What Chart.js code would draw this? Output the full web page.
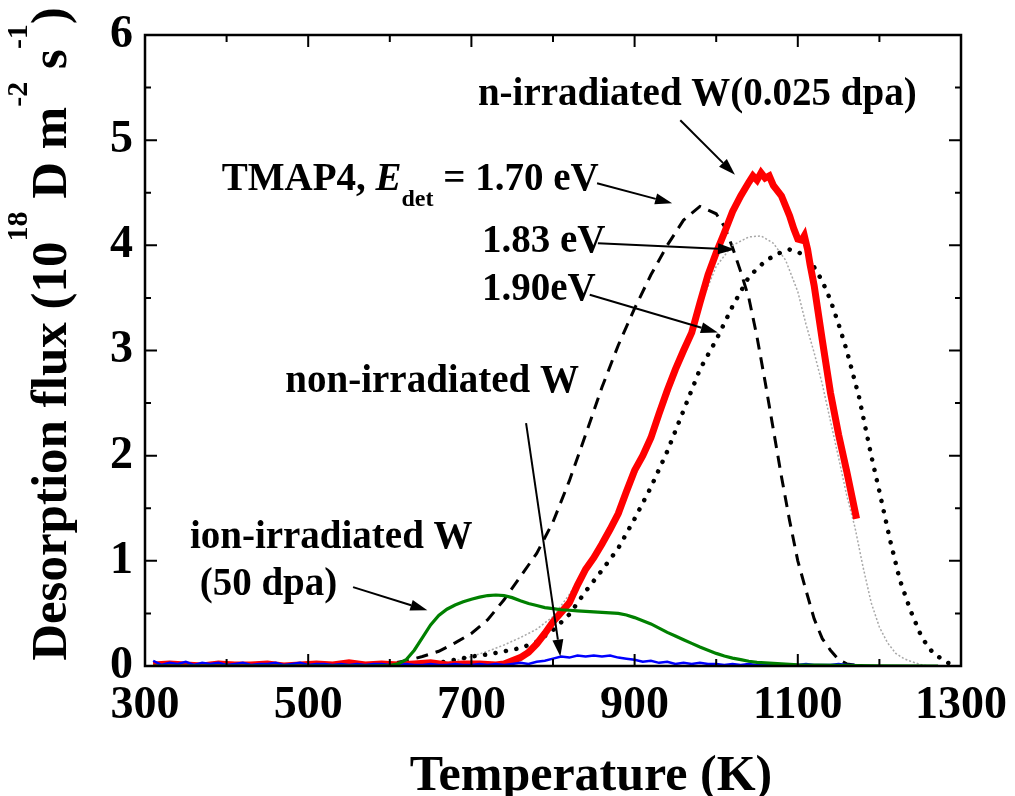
<!DOCTYPE html>
<html>
<head>
<meta charset="utf-8">
<script src="https://cdn.jsdelivr.net/npm/chart.js@4/dist/chart.umd.min.js"></script>
<style>
  html, body { margin: 0; padding: 0; background: #fff; }
  #wrap { width: 1015px; height: 796px; }
</style>
</head>
<body>
<div id="wrap"><canvas id="tds" width="1015" height="796"></canvas></div>
<script>
// measured TDS spectra, temperature in K, flux in 1e18 D m^-2 s^-1
const redT = [310,330,350,370,390,410,430,450,470,490,510,530,550,570,590,610,630,650,670,690,710,730,
  740,750,760,770,780,790,800,810,820,830,840,850,860,870,880,890,900,910,920,930,940,950,960,970,980,990,1000,
  1010,1020,1030,1040,1045,1050,1055,1060,1065,1070,1080,1090,1095,1100,1105,1108,1112,1115,1120,1130,1140,1150,1160,1172];
const redFlux = [0.01,0.02,0.01,0.0,0.02,0.01,0.01,0.02,0.0,0.01,0.02,0.01,0.03,0.01,0.02,0.01,0.02,0.03,0.01,0.02,0.02,0.01,
  0.02,0.05,0.08,0.13,0.21,0.31,0.42,0.51,0.60,0.77,0.92,1.03,1.16,1.30,1.45,1.66,1.86,2.00,2.17,2.40,2.62,2.82,3.00,3.17,3.45,3.72,3.93,
  4.12,4.32,4.47,4.60,4.66,4.62,4.69,4.64,4.66,4.57,4.47,4.28,4.16,4.06,4.05,4.09,3.96,3.82,3.62,3.10,2.60,2.20,1.85,1.40];

const blueT = [310,320,330,340,350,360,370,380,390,400,410,420,430,440,450,460,470,480,490,500,
  510,520,530,540,550,560,570,580,590,600,610,620,630,640,650,660,670,680,690,700,
  710,720,730,740,750,760,770,780,790,800,810,820,830,840,850,860,870,880,890,900,
  910,920,930,940,950,960,970,980,990,1000,1010,1020,1030,1040,1050,1060,1070,1080,1090,1100,
  1110,1120,1130,1140,1150,1160,1170];
const blueFlux = [0.05,0.01,0.03,0.02,0.04,0.01,0.03,0.02,0.03,0.01,0.02,0.03,0.01,0.02,0.02,0.03,0.01,0.02,0.03,0.01,
  0.02,0.02,0.01,0.02,0.01,0.02,0.01,0.02,0.02,0.01,0.01,0.02,0.01,0.01,0.02,0.01,0.01,0.02,0.01,0.01,
  0.02,0.01,0.02,0.01,0.02,0.03,0.02,0.04,0.05,0.07,0.09,0.08,0.10,0.09,0.10,0.09,0.10,0.08,0.07,0.06,
  0.04,0.05,0.03,0.04,0.02,0.03,0.02,0.03,0.02,0.02,0.01,0.02,0.01,0.02,0.01,0.01,0.02,0.01,0.01,0.01,
  0.02,0.01,0.01,0.01,0.02,0.01,0.01];

const greenT = [310,400,500,580,600,610,620,630,640,650,660,670,680,690,700,710,720,730,740,750,760,770,780,790,
  800,810,820,830,840,850,860,870,880,890,900,910,920,930,940,950,960,970,980,990,1000,1010,1020,1030,1040,1050,1060,
  1080,1100,1150,1200,1272];
const greenFlux = [0,0,0,0,0.005,0.02,0.06,0.15,0.27,0.39,0.48,0.54,0.58,0.61,0.635,0.655,0.67,0.675,0.67,0.65,0.62,0.595,0.575,0.555,
  0.545,0.535,0.53,0.525,0.52,0.515,0.51,0.505,0.50,0.485,0.46,0.43,0.40,0.36,0.32,0.285,0.25,0.215,0.18,0.15,0.12,0.095,0.075,0.06,0.045,0.035,0.03,
  0.02,0.012,0.005,0.002,0];

// TMAP4 simulations
const sim170T = [560,580,600,620,640,660,680,700,720,740,760,780,800,820,840,860,880,900,920,940,960,980,1000,
  1010,1020,1030,1040,1050,1060,1070,1080,1090,1100,1110,1120,1130,1140,1150,1160,1180];
const sim170Flux = [0,0.01,0.02,0.05,0.09,0.14,0.22,0.31,0.44,0.63,0.85,1.07,1.37,1.76,2.20,2.65,3.05,3.40,3.72,4.00,4.24,4.37,4.30,
  4.18,3.98,3.75,3.50,3.13,2.70,2.25,1.80,1.38,1.00,0.72,0.45,0.26,0.15,0.06,0.02,0];

const sim183T = [600,620,640,660,680,700,720,740,760,780,800,820,840,860,880,900,920,940,960,980,1000,1020,1040,
  1055,1070,1085,1100,1110,1120,1130,1140,1150,1160,1170,1180,1190,1200,1210,1220,1230,1240,1250,1260];
const sim183Flux = [0,0.005,0.01,0.025,0.05,0.09,0.14,0.20,0.27,0.35,0.47,0.68,0.93,1.20,1.48,1.80,2.15,2.55,2.98,3.42,3.80,4.00,4.08,
  4.09,4.02,3.86,3.56,3.25,2.98,2.68,2.33,1.98,1.62,1.32,0.94,0.60,0.37,0.22,0.12,0.07,0.04,0.015,0];

const sim190T = [640,660,680,700,720,740,760,780,800,820,840,860,880,900,920,940,960,980,1000,1020,1040,1060,
  1075,1090,1105,1115,1130,1140,1150,1160,1175,1190,1200,1213,1225,1238,1252,1266,1284,1295];
const sim190Flux = [0,0.03,0.06,0.09,0.11,0.14,0.17,0.23,0.34,0.49,0.71,0.91,1.12,1.40,1.70,2.04,2.43,2.82,3.10,3.42,3.70,3.85,
  3.92,3.96,3.92,3.86,3.66,3.48,3.25,3.00,2.56,2.00,1.66,1.20,0.82,0.53,0.27,0.12,0.03,0];

const xTicks = [300,400,500,600,700,800,900,1000,1100,1200,1300];
const xLabels = [300,500,700,900,1100,1300];
const yTicks = [0,0.5,1,1.5,2,2.5,3,3.5,4,4.5,5,5.5,6];

const SERIF = "'Liberation Serif', 'Times New Roman', serif";

function pts(xs, ys) { return xs.map((v, i) => ({ x: v, y: ys[i] })); }

// text in data coordinates; segments: [text, size, italic, dy]
const notes = [
  { x: 708, y: 5.33, segs: [['n-irradiated W(0.025 dpa)', 39]] },
  { x: 394, y: 4.53, segs: [['TMAP4, ', 39], ['E', 39, true], ['det', 24, false, 16], [' = 1.70 eV', 39]] },
  { x: 713, y: 3.94, segs: [['1.83 eV', 39]] },
  { x: 713, y: 3.48, segs: [['1.90eV', 39]] },
  { x: 472, y: 2.61, segs: [['non-irradiated W', 39]] },
  { x: 355, y: 1.12, segs: [['ion-irradiated W', 39]] },
  { x: 367, y: 0.675, segs: [['(50 dpa)', 39]] }
];
const arrows = [
  [956, 5.19, 1023, 4.67],
  [854, 4.59, 946, 4.40],
  [855, 4.02, 1023, 3.96],
  [845, 3.53, 1002, 3.17],
  [767, 2.31, 809, 0.09],
  [555, 0.75, 646, 0.53]
];

function setFont(ctx, s) {
  ctx.font = (s[2] ? 'italic ' : '') + 'bold ' + s[1] + 'px ' + SERIF;
}
function rich(ctx, segs, x, y, center) {
  let w = 0;
  segs.forEach(s => { setFont(ctx, s); w += ctx.measureText(s[0]).width; });
  let cx = center ? x - w / 2 : x;
  segs.forEach(s => {
    setFont(ctx, s);
    ctx.fillText(s[0], cx, y + (s[3] || 0));
    cx += ctx.measureText(s[0]).width;
  });
}

const deco = {
  id: 'deco',
  afterDatasetsDraw(chart) {
    const { ctx, chartArea: a, scales: { x, y } } = chart;
    ctx.save();
    ctx.strokeStyle = '#000';
    ctx.fillStyle = '#000';
    ctx.lineWidth = 2.5;
    ctx.strokeRect(a.left, a.top, a.right - a.left, a.bottom - a.top);

    ctx.lineWidth = 2;
    ctx.beginPath();
    xTicks.forEach(v => {
      const px = x.getPixelForValue(v), len = xLabels.includes(v) ? 12 : 7;
      ctx.moveTo(px, a.bottom); ctx.lineTo(px, a.bottom - len);
      ctx.moveTo(px, a.top); ctx.lineTo(px, a.top + len);
    });
    yTicks.forEach(v => {
      const py = y.getPixelForValue(v), len = Number.isInteger(v) ? 12 : 6;
      ctx.moveTo(a.left, py); ctx.lineTo(a.left + len, py);
      ctx.moveTo(a.right, py); ctx.lineTo(a.right - len, py);
    });
    ctx.stroke();

    // arrows
    ctx.lineWidth = 2;
    arrows.forEach(([x0, y0, x1, y1]) => {
      const ax = x.getPixelForValue(x0), ay = y.getPixelForValue(y0);
      const bx = x.getPixelForValue(x1), by = y.getPixelForValue(y1);
      const ang = Math.atan2(by - ay, bx - ax), L = 17, W = 5.5;
      const hx = bx - L * Math.cos(ang), hy = by - L * Math.sin(ang);
      ctx.beginPath(); ctx.moveTo(ax, ay); ctx.lineTo(hx, hy); ctx.stroke();
      ctx.beginPath();
      ctx.moveTo(bx, by);
      ctx.lineTo(hx + W * Math.sin(ang), hy - W * Math.cos(ang));
      ctx.lineTo(hx - W * Math.sin(ang), hy + W * Math.cos(ang));
      ctx.closePath(); ctx.fill();
    });

    ctx.textAlign = 'left';
    ctx.textBaseline = 'alphabetic';
    notes.forEach(n => rich(ctx, n.segs, x.getPixelForValue(n.x), y.getPixelForValue(n.y), false));

    // axis titles
    rich(ctx, [['Temperature (K)', 50]], 591, 790, true);
    ctx.translate(66, 334);
    ctx.rotate(-Math.PI / 2);
    rich(ctx, [['Desorption flux (10', 51], ['18', 30, false, -39], [' D m', 51], ['-2', 30, false, -39],
      [' s', 51], ['-1', 30, false, -39], [')', 51]], 0, 0, true);
    ctx.restore();
  }
};

const tickFont = { family: SERIF, size: 46, weight: 'bold' };

new Chart(document.getElementById('tds'), {
  type: 'line',
  data: {
    datasets: [
      { data: pts(greenT, greenFlux), borderColor: '#008000', borderWidth: 3.2 },
      { data: pts(blueT, blueFlux), borderColor: '#0000ff', borderWidth: 2.5 },
      { data: pts(redT, redFlux), borderColor: '#ff0000', borderWidth: 7, clip: 0 },
      { data: pts(sim190T, sim190Flux), borderColor: '#000', borderWidth: 4.5, borderDash: [0.1, 10.5], borderCapStyle: 'round' },
      { data: pts(sim183T, sim183Flux), borderColor: '#a8a8a8', borderWidth: 1.5, borderDash: [2, 2] },
      { data: pts(sim170T, sim170Flux), borderColor: '#000', borderWidth: 3, borderDash: [12, 8] }
    ]
  },
  options: {
    responsive: false,
    animation: false,
    events: [],
    elements: { point: { radius: 0 }, line: { tension: 0 } },
    layout: { padding: { top: 35, right: 54, left: 0, bottom: 0 } },
    plugins: { legend: { display: false }, tooltip: { enabled: false } },
    scales: {
      x: {
        type: 'linear', min: 300, max: 1300,
        grid: { display: false, drawTicks: false }, border: { display: false },
        ticks: {
          stepSize: 100, autoSkip: false, maxRotation: 0, padding: 13, color: '#000', font: tickFont,
          callback: v => xLabels.includes(v) ? String(v) : ''
        },
        afterFit: s => { s.height = 130; s.paddingLeft = 0; s.paddingRight = 0; }
      },
      y: {
        min: 0, max: 6,
        grid: { display: false, drawTicks: false }, border: { display: false },
        ticks: { stepSize: 1, padding: 12, color: '#000', font: tickFont },
        afterFit: s => { s.width = 145; s.paddingTop = 0; s.paddingBottom = 0; }
      }
    }
  },
  plugins: [deco]
});
</script>
</body>
</html>
